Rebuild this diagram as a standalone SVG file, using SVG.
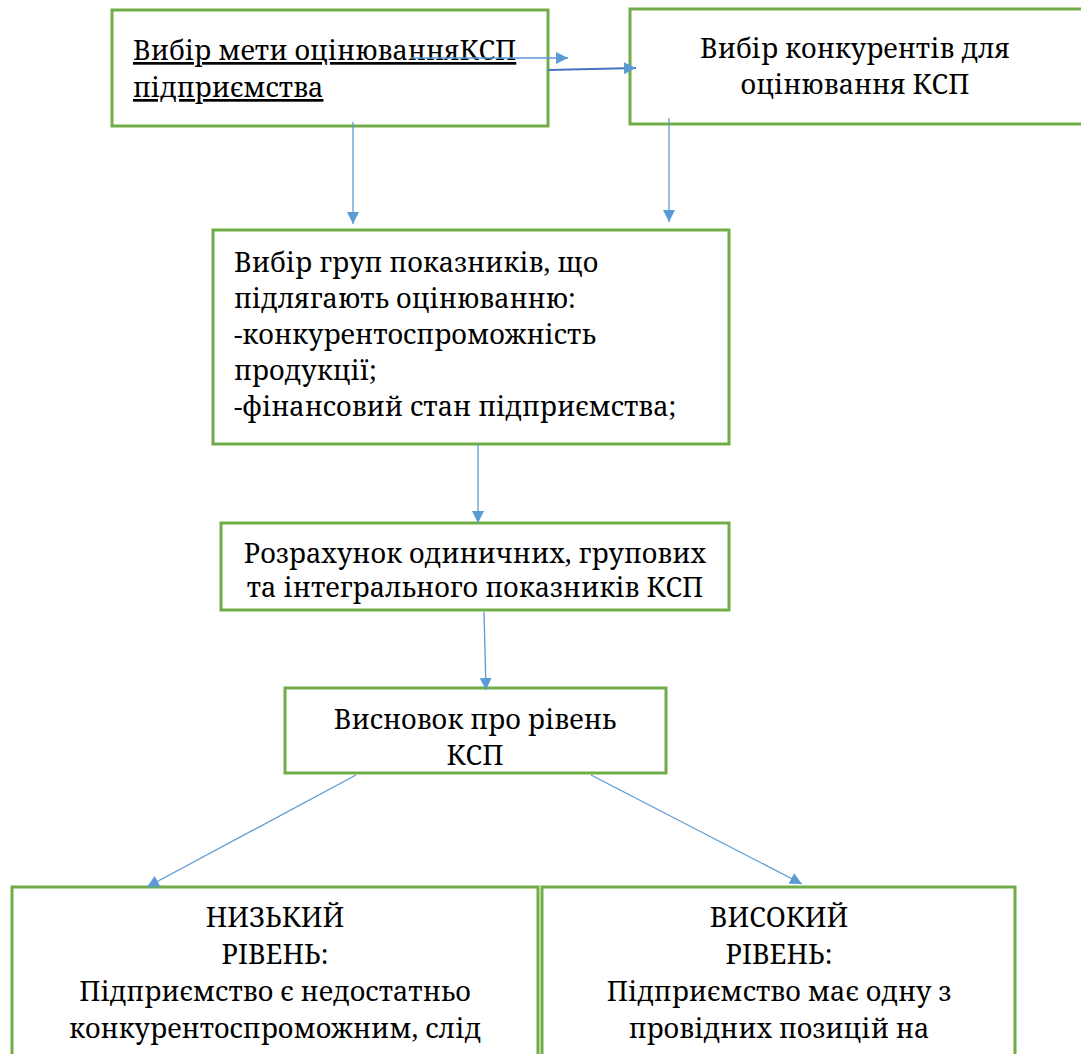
<svg xmlns="http://www.w3.org/2000/svg" width="1081" height="1054" viewBox="0 0 1081 1054">
<defs>
<marker id="ah" viewBox="0 0 10 10" refX="10" refY="5" markerWidth="12" markerHeight="12" markerUnits="userSpaceOnUse" orient="auto">
<path d="M0,0 L10,5 L0,10 z" fill="#5B9BD5"/>
</marker>
</defs>
<rect width="1081" height="1054" fill="#fff"/>
<g id="n1">
<rect x="112" y="10" width="436" height="116" fill="#fff" stroke="#70AD47" stroke-width="3"/>
<text font-family="Noto Serif, DejaVu Serif, serif" font-size="27" text-decoration="underline" x="133" y="60">Вибір мети оцінюванняКСП</text>
<text font-family="Noto Serif, DejaVu Serif, serif" font-size="27" text-decoration="underline" x="133" y="97">підприємства</text>
</g>

<g id="n2">
<rect x="630" y="9" width="460" height="115" fill="#fff" stroke="#70AD47" stroke-width="3"/>
<text font-family="Noto Serif, DejaVu Serif, serif" font-size="27" text-anchor="middle" x="855" y="58">Вибір конкурентів для</text>
<text font-family="Noto Serif, DejaVu Serif, serif" font-size="27" text-anchor="middle" x="855" y="94">оцінювання КСП</text>
</g>

<g id="n3">
<rect x="213" y="230" width="516" height="214" fill="#fff" stroke="#70AD47" stroke-width="3"/>
<text font-family="Noto Serif, DejaVu Serif, serif" font-size="27" x="234" y="272">Вибір груп показників, що</text>
<text font-family="Noto Serif, DejaVu Serif, serif" font-size="27" x="234" y="308">підлягають оцінюванню:</text>
<text font-family="Noto Serif, DejaVu Serif, serif" font-size="27" x="234" y="344">-конкурентоспроможність</text>
<text font-family="Noto Serif, DejaVu Serif, serif" font-size="27" x="234" y="380">продукції;</text>
<text font-family="Noto Serif, DejaVu Serif, serif" font-size="27" x="234" y="416">-фінансовий стан підприємства;</text>
</g>

<g id="n4">
<rect x="221" y="523" width="508" height="87" fill="#fff" stroke="#70AD47" stroke-width="3"/>
<text font-family="Noto Serif, DejaVu Serif, serif" font-size="27" text-anchor="middle" x="475" y="563">Розрахунок одиничних, групових</text>
<text font-family="Noto Serif, DejaVu Serif, serif" font-size="27" text-anchor="middle" x="475" y="597">та інтегрального показників КСП</text>
</g>

<g id="n5">
<rect x="285" y="688" width="381" height="85" fill="#fff" stroke="#70AD47" stroke-width="3"/>
<text font-family="Noto Serif, DejaVu Serif, serif" font-size="27" text-anchor="middle" x="475" y="729">Висновок про рівень</text>
<text font-family="Noto Serif, DejaVu Serif, serif" font-size="27" text-anchor="middle" x="475" y="765">КСП</text>
</g>

<g id="n6">
<rect x="12" y="887" width="526" height="200" fill="#fff" stroke="#70AD47" stroke-width="3"/>
<text font-family="Noto Serif, DejaVu Serif, serif" font-size="27" text-anchor="middle" x="275" y="927">НИЗЬКИЙ</text>
<text font-family="Noto Serif, DejaVu Serif, serif" font-size="27" text-anchor="middle" x="275" y="964">РІВЕНЬ:</text>
<text font-family="Noto Serif, DejaVu Serif, serif" font-size="27" text-anchor="middle" x="275" y="1001">Підприємство є недостатньо</text>
<text font-family="Noto Serif, DejaVu Serif, serif" font-size="27" text-anchor="middle" x="275" y="1038">конкурентоспроможним, слід</text>
</g>

<g id="n7">
<rect x="542" y="887" width="473" height="200" fill="#fff" stroke="#70AD47" stroke-width="3"/>
<text font-family="Noto Serif, DejaVu Serif, serif" font-size="27" text-anchor="middle" x="779" y="927">ВИСОКИЙ</text>
<text font-family="Noto Serif, DejaVu Serif, serif" font-size="27" text-anchor="middle" x="779" y="964">РІВЕНЬ:</text>
<text font-family="Noto Serif, DejaVu Serif, serif" font-size="27" text-anchor="middle" x="779" y="1001">Підприємство має одну з</text>
<text font-family="Noto Serif, DejaVu Serif, serif" font-size="27" text-anchor="middle" x="779" y="1038">провідних позицій на</text>
</g>

<g id="connectors" stroke="#5B9BD5" stroke-width="1.3" fill="none">
<line x1="411" y1="58" x2="568" y2="58" marker-end="url(#ah)"/>
<line x1="548" y1="70" x2="636" y2="68" stroke="#4472C4" stroke-width="2.2" marker-end="url(#ah)"/>
<line x1="353" y1="122" x2="353" y2="224" marker-end="url(#ah)"/>
<line x1="669" y1="118" x2="669" y2="222" marker-end="url(#ah)"/>
<line x1="478" y1="444" x2="478" y2="523" marker-end="url(#ah)"/>
<line x1="484" y1="612" x2="486" y2="690" marker-end="url(#ah)"/>
<line x1="356" y1="775" x2="147" y2="887" marker-end="url(#ah)"/>
<line x1="591" y1="775" x2="802" y2="884" marker-end="url(#ah)"/>
</g>
</svg>
